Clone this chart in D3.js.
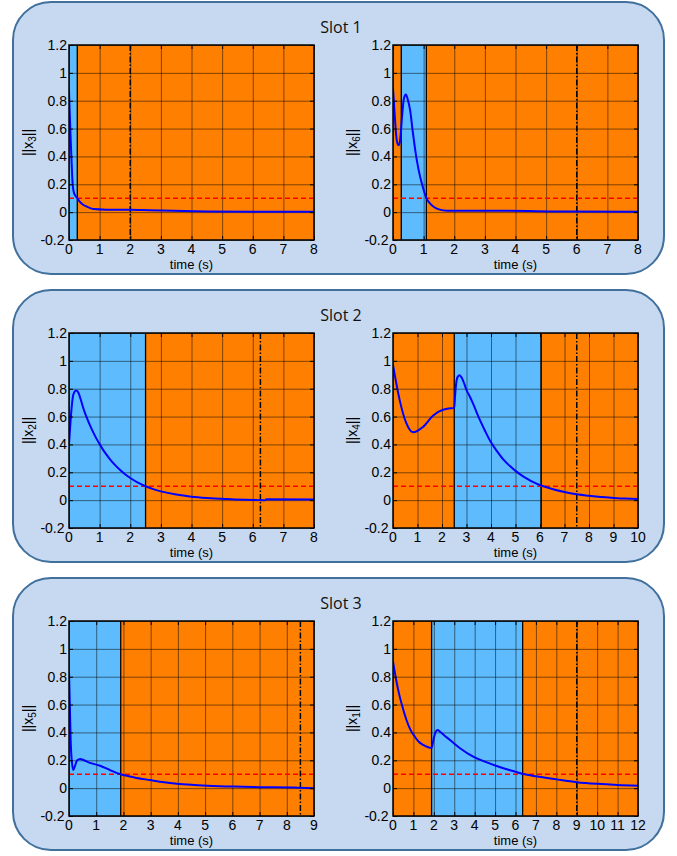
<!DOCTYPE html>
<html>
<head>
<meta charset="utf-8">
<script src="https://cdn.jsdelivr.net/npm/d3@7"></script>
<style>
  body { margin: 0; background: #fff; }
  svg { display: block; }
</style>
</head>
<body>
<div id="chart"></div>
<script>
// ---- data ----
const slotTitles = ["Slot 1", "Slot 2", "Slot 3"];
const yTicks = [-0.2, 0, 0.2, 0.4, 0.6, 0.8, 1, 1.2];
const yTickLabels = ["-0.2", "0", "0.2", "0.4", "0.6", "0.8", "1", "1.2"];
const threshold = 0.1;

// slot 1, left: ||x3||
const t3 = [0, 0.01, 0.03, 0.05, 0.07, 0.1, 0.12, 0.15, 0.2, 0.27, 0.35, 0.45, 0.6, 0.8, 1.2, 2.0, 2.6, 3.4, 4.5, 6, 8];
const x3 = [0.88, 0.8, 0.68, 0.55, 0.44, 0.28, 0.2, 0.15, 0.12, 0.1, 0.075, 0.055, 0.038, 0.022, 0.018, 0.017, 0.014, 0.01, 0.005, 0.003, 0.002];
// slot 1, right: ||x6||
const t6 = [0, 0.05, 0.1, 0.15, 0.19, 0.24, 0.3, 0.36, 0.42, 0.48, 0.56, 0.65, 0.73, 0.78, 0.89, 1.0, 1.09, 1.2, 1.35, 1.5, 1.77, 2.0, 3.5, 5.5, 8];
const x6 = [0.89, 0.72, 0.56, 0.49, 0.48, 0.53, 0.7, 0.82, 0.845, 0.81, 0.73, 0.57, 0.44, 0.37, 0.25, 0.16, 0.1, 0.065, 0.035, 0.02, 0.01, 0.01, 0.01, 0.005, 0.002];
// slot 2, left: ||x2||
const t2 = [0, 0.03, 0.08, 0.14, 0.23, 0.3, 0.4, 0.45, 0.52, 0.6, 0.69, 0.8, 0.9, 1.0, 1.12, 1.23, 1.34, 1.5, 1.67, 1.83, 2.0, 2.25, 2.5, 2.75, 3.0, 3.5, 4.0, 4.5, 5.0, 5.4, 6.4, 6.45, 8];
const x2 = [0.4, 0.5, 0.65, 0.757, 0.788, 0.775, 0.71, 0.672, 0.626, 0.582, 0.535, 0.483, 0.44, 0.403, 0.359, 0.325, 0.293, 0.253, 0.216, 0.186, 0.159, 0.126, 0.1, 0.079, 0.063, 0.04, 0.025, 0.016, 0.01, 0.004, 0.0, 0.006, 0.005];
// slot 2, right: ||x4||
const t4 = [0, 0.27, 0.54, 0.82, 1.22, 1.63, 2.04, 2.48, 2.5, 2.53, 2.58, 2.64, 2.72, 2.8, 2.9, 3.0, 3.13, 3.25, 3.54, 3.75, 4.0, 4.25, 4.5, 4.75, 5.0, 5.25, 5.5, 5.75, 6.05, 6.5, 7.0, 7.5, 8.0, 8.5, 9.0, 9.5, 10];
const x4 = [0.97, 0.72, 0.554, 0.487, 0.525, 0.606, 0.649, 0.661, 0.661, 0.74, 0.84, 0.885, 0.896, 0.88, 0.84, 0.79, 0.746, 0.7, 0.578, 0.5, 0.415, 0.35, 0.292, 0.248, 0.21, 0.178, 0.151, 0.127, 0.105, 0.08, 0.058, 0.042, 0.031, 0.022, 0.016, 0.011, 0.008];
// slot 3, left: ||x5||
const t5 = [0, 0.03, 0.06, 0.1, 0.16, 0.22, 0.3, 0.41, 0.55, 0.8, 1.14, 1.5, 1.9, 2.4, 2.98, 3.5, 3.96, 4.5, 5.07, 6.05, 7, 8.26, 8.5, 9];
const x5 = [0.84, 0.6, 0.35, 0.2, 0.13, 0.16, 0.2, 0.21, 0.2, 0.18, 0.161, 0.13, 0.1, 0.077, 0.058, 0.042, 0.032, 0.024, 0.018, 0.011, 0.007, 0.004, 0.002, 0.0];
// slot 3, right: ||x1||
const t1 = [0, 0.15, 0.33, 0.5, 0.66, 0.85, 1.07, 1.25, 1.48, 1.7, 1.84, 1.89, 1.93, 2.0, 2.08, 2.18, 2.3, 2.5, 2.79, 3.3, 3.93, 4.5, 5.08, 5.7, 6.35, 7, 8, 9, 10, 11, 12];
const x1 = [0.91, 0.78, 0.657, 0.565, 0.489, 0.42, 0.369, 0.335, 0.31, 0.295, 0.29, 0.29, 0.31, 0.36, 0.4, 0.417, 0.405, 0.38, 0.346, 0.285, 0.226, 0.19, 0.159, 0.13, 0.103, 0.085, 0.063, 0.043, 0.031, 0.023, 0.018];

// per panel: subscript, time range, blue (active) span, dash-dot deadline
const panelNames = ["3", "6", "2", "4", "5", "1"];
const panelTimes = [t3, t6, t2, t4, t5, t1];
const panelValues = [x3, x6, x2, x4, x5, x1];
const panelXMax = [8, 8, 8, 10, 9, 12];
const blueSpans = [[0, 0.27], [0.27, 1.09], [0, 2.5], [2.5, 6.05], [0, 1.9], [1.89, 6.35]];
const deadlines = [2, 6, 6.25, 7.5, 8.5, 9];

// ---- layout ----
const W = 677, H = 856;
const boxX = 13, boxW = 651, boxH = 272, boxTops = [2, 290, 578];
const plotW = 245, plotH = 195, plotLefts = [69, 393];

const svg = d3.select("#chart").append("svg")
  .attr("width", W).attr("height", H);

const defs = svg.append("defs");

boxTops.forEach((top, s) => {
  svg.append("rect")
    .attr("x", boxX).attr("y", top)
    .attr("width", boxW).attr("height", boxH)
    .attr("rx", 38).attr("ry", 38)
    .attr("fill", "#c6d9f1")
    .attr("stroke", "#41709c")
    .attr("stroke-width", 2);

  svg.append("text")
    .attr("x", 341).attr("y", top + 31)
    .attr("text-anchor", "middle")
    .style("font-family", "'Open Sans', sans-serif")
    .style("font-size", "16px")
    .attr("fill", "#111")
    .text(slotTitles[s]);
});

panelNames.forEach((name, i) => {
  const s = Math.floor(i / 2);
  const left = plotLefts[i % 2];
  const top = boxTops[s] + 43;

  const x = d3.scaleLinear().domain([0, panelXMax[i]]).range([0, plotW]);
  const y = d3.scaleLinear().domain([-0.2, 1.2]).range([plotH, 0]);
  const xTicks = d3.range(0, panelXMax[i] + 1);

  const g = svg.append("g").attr("transform", `translate(${left},${top})`);

  defs.append("clipPath").attr("id", "clip" + i)
    .append("rect").attr("width", plotW).attr("height", plotH);

  // background: orange with a blue active span
  g.append("rect")
    .attr("width", plotW).attr("height", plotH)
    .attr("fill", "#ff8000");
  g.append("rect")
    .attr("x", x(blueSpans[i][0]))
    .attr("width", x(blueSpans[i][1]) - x(blueSpans[i][0]))
    .attr("height", plotH)
    .attr("fill", "#5ebcfe");

  // grid
  g.append("g")
    .attr("transform", `translate(0,${plotH})`)
    .call(d3.axisBottom(x).tickValues(xTicks).tickSize(-plotH).tickFormat(""))
    .call(a => a.select(".domain").remove())
    .call(a => a.selectAll("line").attr("stroke", "#000").attr("stroke-opacity", 0.5));
  g.append("g")
    .call(d3.axisLeft(y).tickValues(yTicks).tickSize(-plotW).tickFormat(""))
    .call(a => a.select(".domain").remove())
    .call(a => a.selectAll("line").attr("stroke", "#000").attr("stroke-opacity", 0.5));

  // span edges
  blueSpans[i].forEach(v => {
    if (v > 0 && v < panelXMax[i]) {
      g.append("line")
        .attr("x1", x(v)).attr("x2", x(v))
        .attr("y1", 0).attr("y2", plotH)
        .attr("stroke", "#000").attr("stroke-width", 1.3);
    }
  });

  // deadline (dash-dot)
  g.append("line")
    .attr("x1", x(deadlines[i])).attr("x2", x(deadlines[i]))
    .attr("y1", 0).attr("y2", plotH)
    .attr("stroke", "#000").attr("stroke-width", 1.5)
    .attr("stroke-dasharray", "6,2,1.5,2");

  // threshold
  g.append("line")
    .attr("x1", 0).attr("x2", plotW)
    .attr("y1", y(threshold)).attr("y2", y(threshold))
    .attr("stroke", "#ff0000").attr("stroke-width", 1.5)
    .attr("stroke-dasharray", "5,3");

  // curve
  const pts = panelTimes[i].map((t, k) => [t, panelValues[i][k]]);
  g.append("path")
    .datum(pts)
    .attr("clip-path", `url(#clip${i})`)
    .attr("fill", "none")
    .attr("stroke", "#0000ff")
    .attr("stroke-width", 2)
    .attr("d", d3.line().x(d => x(d[0])).y(d => y(d[1])).curve(d3.curveMonotoneX));

  // inward ticks on four sides
  const tk = a => a.select(".domain").remove();
  g.append("g").attr("transform", `translate(0,${plotH})`)
    .call(d3.axisBottom(x).tickValues(xTicks).tickSize(-4).tickFormat("")).call(tk);
  g.append("g")
    .call(d3.axisTop(x).tickValues(xTicks).tickSize(-4).tickFormat("")).call(tk);
  g.append("g")
    .call(d3.axisLeft(y).tickValues(yTicks).tickSize(-4).tickFormat("")).call(tk);
  g.append("g").attr("transform", `translate(${plotW},0)`)
    .call(d3.axisRight(y).tickValues(yTicks).tickSize(-4).tickFormat("")).call(tk);

  // box
  g.append("rect")
    .attr("width", plotW).attr("height", plotH)
    .attr("fill", "none").attr("stroke", "#000").attr("stroke-width", 1.5);

  // tick labels
  const lab = g.append("g")
    .style("font-family", "'Liberation Sans', Arial, sans-serif")
    .style("font-size", "14px")
    .attr("fill", "#000");
  lab.selectAll(".xl").data(xTicks).join("text")
    .attr("x", d => x(d)).attr("y", plotH + 14)
    .attr("text-anchor", "middle")
    .text(d => d);
  lab.selectAll(".yl").data(yTicks).join("text")
    .attr("x", (d, k) => k === 0 ? -4.5 : -2)
    .attr("y", d => y(d) + 5)
    .attr("text-anchor", "end")
    .text((d, k) => yTickLabels[k]);

  // axis titles
  lab.append("text")
    .attr("x", plotW / 2).attr("y", plotH + 29)
    .attr("text-anchor", "middle")
    .style("font-size", "13px")
    .text("time (s)");

  const yl = lab.append("text")
    .attr("transform", `translate(-36,${plotH / 2}) rotate(-90)`)
    .attr("text-anchor", "middle")
    .style("font-size", "14px");
  yl.append("tspan").text("||x");
  yl.append("tspan").attr("dy", 3).style("font-size", "10px").text(name);
  yl.append("tspan").attr("dy", -3).text("||");
});
</script>
</body>
</html>
